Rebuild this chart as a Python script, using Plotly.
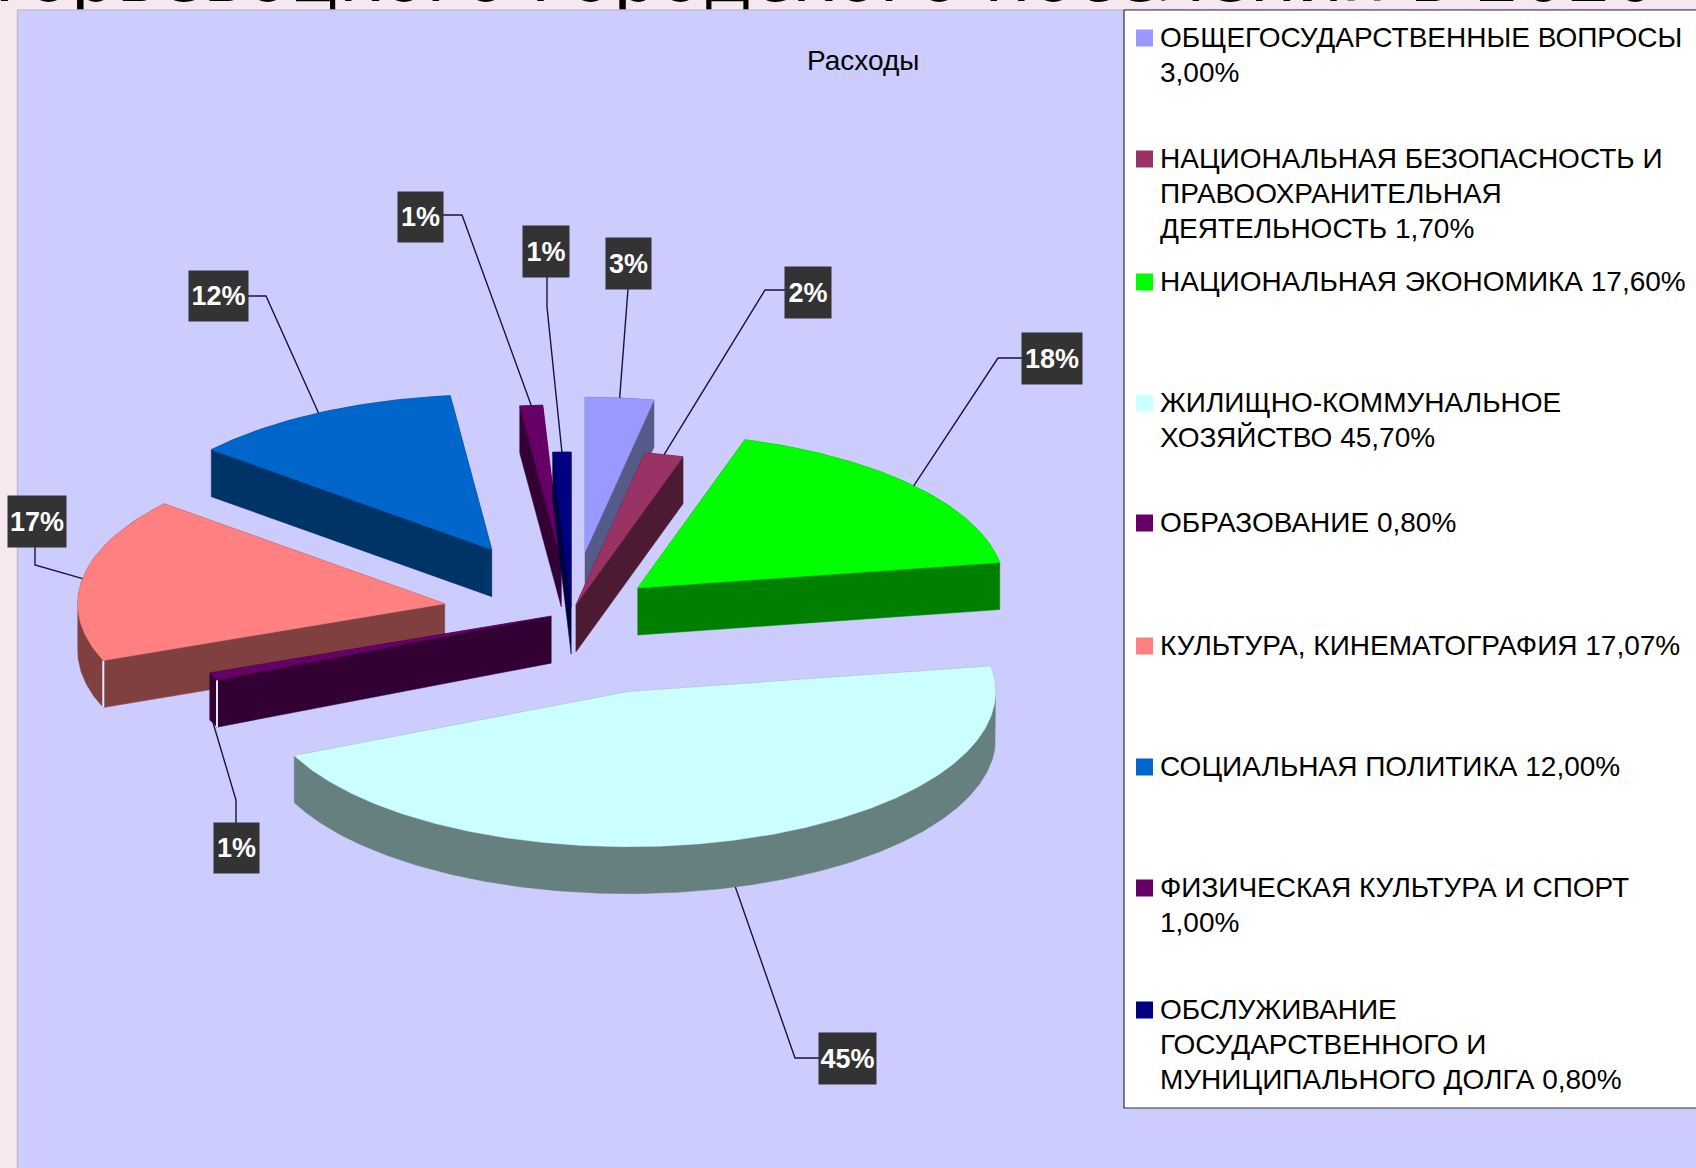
import numpy as np
import plotly.graph_objects as go

# ---------- data ----------
categories = ["ОБЩЕГОСУДАРСТВЕННЫЕ ВОПРОСЫ 3,00%",
              "НАЦИОНАЛЬНАЯ БЕЗОПАСНОСТЬ И ПРАВООХРАНИТЕЛЬНАЯ ДЕЯТЕЛЬНОСТЬ 1,70%",
              "НАЦИОНАЛЬНАЯ ЭКОНОМИКА 17,60%",
              "ЖИЛИЩНО-КОММУНАЛЬНОЕ ХОЗЯЙСТВО 45,70%",
              "ОБРАЗОВАНИЕ 0,80%",
              "КУЛЬТУРА, КИНЕМАТОГРАФИЯ 17,07%",
              "СОЦИАЛЬНАЯ ПОЛИТИКА 12,00%",
              "ФИЗИЧЕСКАЯ КУЛЬТУРА И СПОРТ 1,00%",
              "ОБСЛУЖИВАНИЕ ГОСУДАРСТВЕННОГО И МУНИЦИПАЛЬНОГО ДОЛГА 0,80%"]
values = [3.00, 1.70, 17.60, 45.70, 0.80, 17.07, 12.00, 1.00, 0.80]
pct_labels = ["3%", "2%", "18%", "45%", "1%", "17%", "12%", "1%", "1%"]
explode = [0.39, 0.05, 0.24, 0.534, 0.06, 0.35, 0.46, 0.34, 0.035]

# ---------- style / layout ----------
top_colors = ["#9999ff", "#993366", "#00ff00", "#ccffff", "#660066", "#ff8080", "#0066cc", "#660066", "#000080"]
side_colors = ["#555b88", "#4d1a33", "#008000", "#668080", "#330033", "#804040", "#003366", "#330033", "#000040"]
draw_order = [6, 7, 8, 0, 1, 2, 5, 4, 3]
W, H = 1696, 1168
CX, CY, RX, RY, DEPTH = 571.5, 612.5, 367, 155, 47
PAGE, PANEL = "#f5e8ef", "#ccccff"
TITLE = "Торьевоцкого городского поселения в 2020"
legend_lines = [["ОБЩЕГОСУДАРСТВЕННЫЕ ВОПРОСЫ", "3,00%"],
                ["НАЦИОНАЛЬНАЯ БЕЗОПАСНОСТЬ И", "ПРАВООХРАНИТЕЛЬНАЯ", "ДЕЯТЕЛЬНОСТЬ 1,70%"],
                ["НАЦИОНАЛЬНАЯ ЭКОНОМИКА 17,60%"],
                ["ЖИЛИЩНО-КОММУНАЛЬНОЕ", "ХОЗЯЙСТВО 45,70%"],
                ["ОБРАЗОВАНИЕ 0,80%"],
                ["КУЛЬТУРА, КИНЕМАТОГРАФИЯ 17,07%"],
                ["СОЦИАЛЬНАЯ ПОЛИТИКА 12,00%"],
                ["ФИЗИЧЕСКАЯ КУЛЬТУРА И СПОРТ", "1,00%"],
                ["ОБСЛУЖИВАНИЕ", "ГОСУДАРСТВЕННОГО И", "МУНИЦИПАЛЬНОГО ДОЛГА 0,80%"]]
legend_y = [37, 158, 281, 402, 522, 645, 766, 887, 1009]
LEGEND_LH = 35
# label box (x0, x1, y0, y1), leader start, knee or None, attach to the lower rim
label_boxes = [
    ((606, 651, 238, 289), (628, 289), None, False),
    ((785, 831, 267, 318), (785, 290), (765, 290), False),
    ((1022, 1082, 333, 384), (1022, 358), (998, 358), False),
    ((819, 876, 1033, 1084), (819, 1058), (795, 1058), True),
    ((214, 259, 823, 873), (236, 823), (236, 800), True),
    ((8, 66, 496, 547), (35, 547), (35, 565), False),
    ((189, 248, 271, 321), (248, 296), (266, 296), False),
    ((398, 443, 192, 242), (443, 215), (462, 215), False),
    ((523, 569, 226, 277), (547, 277), (547, 307), False),
]
highlight_edges = {4: "#e8e8ff", 5: "#e8e8ff"}

# ---------- geometry derived from the values ----------
share = np.array(values) / sum(values) * 360.0
ends = np.cumsum(share)
starts = ends - share
mids = (starts + ends) / 2


def proj(theta, r=1.0):
    t = np.radians(theta)
    return r * RX * np.sin(t), -r * RY * np.cos(t)


def hull(pts):
    pts = sorted(set(map(tuple, np.round(pts, 3))))

    def half(seq):
        out = []
        for p in seq:
            while len(out) >= 2 and ((out[-1][0] - out[-2][0]) * (p[1] - out[-2][1]) -
                                     (out[-1][1] - out[-2][1]) * (p[0] - out[-2][0])) <= 0:
                out.pop()
            out.append(p)
        return out[:-1]
    h = half(pts) + half(pts[::-1])
    return np.array(h + h[:1])


fig = go.Figure()

# title sits underneath the panel so only its lower part shows
fig.add_trace(go.Scatter(x=[W - 38], y=[19], mode="text", text=[TITLE], textposition="top left",
                         textfont=dict(family="DejaVu Sans", size=72, color="#000000"),
                         hoverinfo="skip", showlegend=False, cliponaxis=False))
fig.add_trace(go.Scatter(x=[17.5, W + 2, W + 2, 17.5, 17.5], y=[10, 10, H + 2, H + 2, 10], mode="lines",
                         fill="toself", fillcolor=PANEL, line=dict(color="#c3bccc", width=1.5),
                         hoverinfo="skip", showlegend=False))
fig.add_trace(go.Scatter(x=[1124, W + 2, W + 2, 1124, 1124], y=[10, 10, 1108, 1108, 10], mode="lines",
                         fill="toself", fillcolor="#ffffff", line=dict(color="#2f2f3a", width=1.2),
                         hoverinfo="skip", showlegend=False))

apexes = {}
for i in draw_order:
    ex, ey = proj(mids[i], explode[i])
    ax, ay = CX + ex, CY + ey
    apexes[i] = (ax, ay)
    th = np.linspace(starts[i], ends[i], max(8, int(share[i] * 1.5)))
    px, py = proj(th)
    xs = np.concatenate([[ax], ax + px, [ax]])
    ys = np.concatenate([[ay], ay + py, [ay]])
    pts = np.column_stack([np.r_[xs, xs], np.r_[ys, ys + DEPTH]])
    h = hull(pts)
    fig.add_trace(go.Scatter(x=h[:, 0], y=h[:, 1], mode="lines", fill="toself", fillcolor=side_colors[i],
                             line=dict(color=side_colors[i], width=0.5), hoverinfo="skip", showlegend=False))
    if i in highlight_edges:
        x0, y0 = ax + px[0], ay + py[0]
        fig.add_trace(go.Scatter(x=[x0, x0], y=[y0, y0 + DEPTH], mode="lines",
                                 line=dict(color=highlight_edges[i], width=2), hoverinfo="skip", showlegend=False))
    fig.add_trace(go.Scatter(x=xs, y=ys, mode="lines", fill="toself", fillcolor=top_colors[i],
                             line=dict(color=top_colors[i], width=0.5), name=categories[i], showlegend=False))

# leaders
for i, (box, start, knee, lower) in enumerate(label_boxes):
    dx, dy = proj(mids[i])
    end = (apexes[i][0] + dx, apexes[i][1] + dy + (DEPTH if lower else 0))
    pts = [start] + ([knee] if knee else []) + [end]
    fig.add_trace(go.Scatter(x=[p[0] for p in pts], y=[p[1] for p in pts], mode="lines",
                             line=dict(color="#16163a", width=1.4), hoverinfo="skip", showlegend=False))

# legend swatches
fig.add_trace(go.Scatter(x=[1144.5] * len(values), y=[y + 1 for y in legend_y], mode="markers",
                         marker=dict(symbol="square", size=17, color=top_colors, line=dict(width=0)),
                         hoverinfo="skip", showlegend=False))

ann = []
for lines, y0 in zip(legend_lines, legend_y):
    for k, line in enumerate(lines):
        ann.append(dict(x=1158, y=y0 + k * LEGEND_LH, xref="x", yref="y", text=line, showarrow=False,
                        xanchor="left", yanchor="middle", font=dict(family="Liberation Sans", size=28, color="#000000")))
ann.append(dict(x=863, y=60, xref="x", yref="y", text="Расходы", showarrow=False, xanchor="center", yanchor="middle",
                font=dict(family="Liberation Sans", size=28, color="#000000")))
for i, b in enumerate(label_boxes):
    x0, x1, y0, y1 = b[0]
    ann.append(dict(x=(x0 + x1) / 2, y=(y0 + y1) / 2, xref="x", yref="y", text="<b>%s</b>" % pct_labels[i],
                    showarrow=False, xanchor="center", yanchor="middle", width=x1 - x0, height=y1 - y0,
                    align="center", valign="middle", bgcolor="#333333", borderpad=0,
                    font=dict(family="Liberation Sans", size=27, color="#ffffff")))

fig.update_layout(width=W, height=H, margin=dict(l=0, r=0, t=0, b=0), paper_bgcolor=PAGE, plot_bgcolor=PAGE,
                  showlegend=False, annotations=ann,
                  xaxis=dict(range=[0, W], visible=False, fixedrange=True),
                  yaxis=dict(range=[H, 0], visible=False, fixedrange=True))
fig.write_html("out.html", config={"displayModeBar": False},
               post_script="document.body.style.margin='0';document.body.style.overflow='hidden';"
                           "document.documentElement.style.overflow='hidden';")
